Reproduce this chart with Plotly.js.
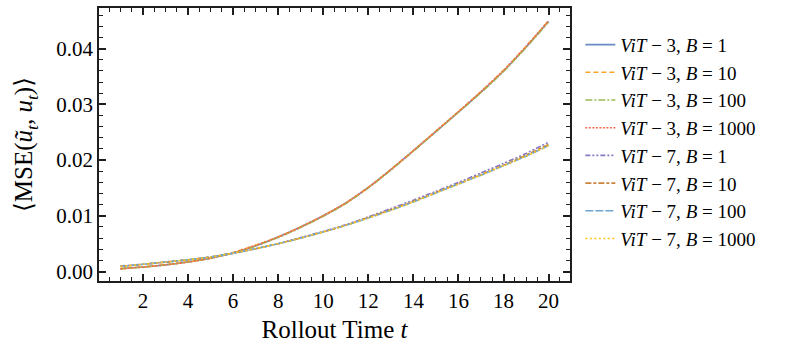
<!DOCTYPE html>
<html>
<head>
<meta charset="utf-8">
<script src="https://cdn.plot.ly/plotly-3.0.1.min.js"></script>
<style>
  html, body { margin: 0; padding: 0; background: #fff; }
  #myGraph { width: 793px; height: 351px; }
</style>
</head>
<body>
<div id="myGraph"></div>
<script>
// rollout steps
let steps = [1, 2, 3, 4, 5, 6, 7, 8, 9, 10, 11, 12, 13, 14, 15, 16, 17, 18, 19, 20];

// ViT-3 runs (all four batch sizes almost on top of each other)
let vit3_b1    = [0.0005, 0.0008, 0.0012, 0.0017, 0.0024, 0.0033, 0.0046, 0.0062, 0.0080, 0.0100, 0.0123, 0.0151, 0.0183, 0.0217, 0.0251, 0.0286, 0.0322, 0.0360, 0.0403, 0.0449];
let vit3_b10   = [0.0005, 0.0008, 0.0012, 0.0017, 0.0024, 0.0034, 0.0047, 0.0062, 0.0080, 0.0100, 0.0123, 0.0151, 0.0183, 0.0217, 0.0252, 0.0287, 0.0323, 0.0361, 0.0404, 0.0450];
let vit3_b100  = [0.0005, 0.0008, 0.0012, 0.0017, 0.0024, 0.0033, 0.0046, 0.0061, 0.0079, 0.0099, 0.0122, 0.0150, 0.0182, 0.0216, 0.0251, 0.0286, 0.0321, 0.0359, 0.0402, 0.0448];
let vit3_b1000 = [0.0005, 0.0008, 0.0012, 0.0017, 0.0024, 0.0034, 0.0047, 0.0062, 0.0080, 0.0100, 0.0123, 0.0151, 0.0183, 0.0217, 0.0252, 0.0287, 0.0323, 0.0361, 0.0404, 0.0450];

// ViT-7 runs
let vit7_b1    = [0.0010, 0.0013, 0.0017, 0.0021, 0.0026, 0.0033, 0.0041, 0.0050, 0.0061, 0.0072, 0.0084, 0.0098, 0.0113, 0.0128, 0.0144, 0.0160, 0.0177, 0.0194, 0.0212, 0.0232];
let vit7_b10   = [0.0009, 0.0013, 0.0017, 0.0021, 0.0026, 0.0033, 0.0041, 0.0050, 0.0060, 0.0071, 0.0083, 0.0097, 0.0111, 0.0126, 0.0142, 0.0158, 0.0174, 0.0191, 0.0209, 0.0228];
let vit7_b100  = [0.0009, 0.0013, 0.0017, 0.0021, 0.0026, 0.0033, 0.0041, 0.0050, 0.0060, 0.0071, 0.0083, 0.0096, 0.0110, 0.0125, 0.0141, 0.0157, 0.0173, 0.0190, 0.0207, 0.0226];
let vit7_b1000 = [0.0009, 0.0013, 0.0017, 0.0021, 0.0026, 0.0033, 0.0041, 0.0050, 0.0060, 0.0071, 0.0083, 0.0096, 0.0110, 0.0125, 0.0141, 0.0157, 0.0173, 0.0190, 0.0207, 0.0226];

let seriesNames = [
    "<i>ViT</i> − 3, <i>B</i> = 1",
    "<i>ViT</i> − 3, <i>B</i> = 10",
    "<i>ViT</i> − 3, <i>B</i> = 100",
    "<i>ViT</i> − 3, <i>B</i> = 1000",
    "<i>ViT</i> − 7, <i>B</i> = 1",
    "<i>ViT</i> − 7, <i>B</i> = 10",
    "<i>ViT</i> − 7, <i>B</i> = 100",
    "<i>ViT</i> − 7, <i>B</i> = 1000"
];
let seriesValues = [vit3_b1, vit3_b10, vit3_b100, vit3_b1000, vit7_b1, vit7_b10, vit7_b100, vit7_b1000];

let colors = ["#6a8cc4", "#f5a52a", "#9bbb52", "#f4694c", "#8779c6", "#c9853e", "#6fa6d0", "#ffc414"];
let dashes = ["solid", "5px,3px", "7px,2px,2px,2px", "2px,1.5px",
              "5px,2px,2px,2px,2px,2px", "6px,2px,3px,2px", "8px,2px", "2px,2.5px"];

let data = [];
for (let i = 0; i < seriesValues.length; i++) {
    data.push({
        type: "scatter",
        mode: "lines",
        name: seriesNames[i],
        legendgroup: "g" + i,
        x: steps,
        y: seriesValues[i],
        line: { color: colors[i], width: 1.6, dash: dashes[i], shape: "spline", smoothing: 0.6 }
    });
}

let serif = "Liberation Serif, DejaVu Serif, serif";

// shared axis frame style: ticks pointing in, on all four sides
let frame = {
    ticks: "inside", ticklen: 7, tickwidth: 1.6, tickcolor: "rgb(30,30,30)",
    showline: true, linecolor: "rgb(30,30,30)", linewidth: 1.8, mirror: "allticks",
    showgrid: false, zeroline: false
};

let layout = {
    width: 793,
    height: 351,
    margin: { l: 99, r: 223, t: 8, b: 70 },
    paper_bgcolor: "#fff",
    plot_bgcolor: "rgba(0,0,0,0)",
    font: { family: serif, size: 21, color: "#000" },
    showlegend: true,
    legend: {
        x: 1.022, xanchor: "left",
        y: 0.935, yanchor: "top",
        font: { family: serif, size: 19, color: "#000" },
        traceorder: "grouped",
        tracegroupgap: 0,
        itemwidth: 30,
        bgcolor: "rgba(0,0,0,0)"
    },
    xaxis: Object.assign({}, frame, {
        range: [0.05, 20.95],
        dtick: 2, tick0: 0,
        minor: { dtick: 0.5, tick0: 0, ticks: "inside", ticklen: 4, tickwidth: 1.3, tickcolor: "rgb(30,30,30)" },
        layer: "above traces",
        title: { text: "Rollout Time <i>t</i>", standoff: 8 }
    }),
    yaxis: Object.assign({}, frame, {
        range: [-0.0017, 0.0473],
        dtick: 0.01, tick0: 0,
        tickformat: ".2f",
        minor: { dtick: 0.002, tick0: 0, ticks: "inside", ticklen: 4, tickwidth: 1.3, tickcolor: "rgb(30,30,30)" },
        layer: "above traces",
        title: { text: "⟨MSE(<i>ũ</i><sub><i>t</i></sub>, <i>u</i><sub><i>t</i></sub>)⟩", standoff: 16 }
    })
};

Plotly.newPlot("myGraph", data, layout, { displayModeBar: false });
</script>
</body>
</html>
